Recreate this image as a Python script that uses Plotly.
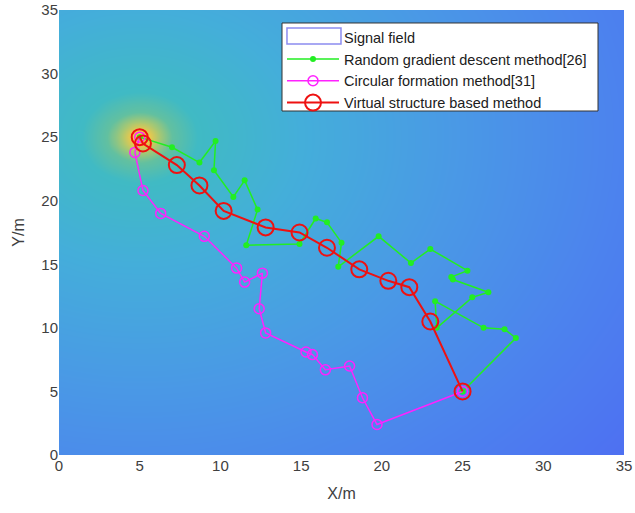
import numpy as np
import plotly.graph_objects as go

# ---- data ----
source = (5.0, 25.0)

green_x = [5.0, 7.0, 8.7, 9.7, 9.6, 10.8, 11.5, 12.3, 11.6, 14.9, 15.9, 16.6, 17.5, 17.3,
           19.8, 21.8, 23.0, 25.3, 24.3, 24.4, 26.6, 25.6, 23.4, 23.3, 26.3, 27.6, 28.3, 25.0]
green_y = [25.0, 24.2, 23.0, 24.7, 22.4, 20.3, 21.6, 19.3, 16.5, 16.6, 18.6, 18.3, 16.7, 14.8,
           17.2, 15.1, 16.2, 14.5, 14.0, 13.8, 12.8, 12.4, 10.0, 12.1, 10.0, 9.9, 9.2, 5.0]

magenta_x = [5.0, 4.7, 5.2, 6.3, 9.0, 11.0, 11.5, 12.6, 12.4, 12.8, 15.3, 15.7, 16.5, 18.0, 18.8, 19.7, 25.0]
magenta_y = [25.0, 23.8, 20.8, 19.0, 17.2, 14.7, 13.6, 14.3, 11.5, 9.6, 8.1, 7.9, 6.7, 7.0, 4.5, 2.4, 5.0]

red_x = [5.0, 5.2, 7.3, 8.7, 10.2, 12.8, 14.9, 16.6, 18.6, 20.4, 21.7, 23.0, 25.0]
red_y = [25.0, 24.5, 22.8, 21.2, 19.2, 17.9, 17.5, 16.3, 14.6, 13.7, 13.2, 10.5, 5.0]

ticks = [0, 5, 10, 15, 20, 25, 30, 35]
labels = ["Signal field", "Random gradient descent method[26]",
          "Circular formation method[31]", "Virtual structure based method"]

# ---- signal field (distance from source) ----
gx = np.linspace(0, 35, 141)
gy = np.linspace(0, 35, 141)
XX, YY = np.meshgrid(gx, gy)
dist = np.sqrt((XX - source[0]) ** 2 + (YY - source[1]) ** 2)

colorscale = [
    [0.0, "#F8D838"],
    [0.015, "#EAC84C"],
    [0.03, "#A8C872"],
    [0.05, "#62C0A0"],
    [0.09, "#40BAC4"],
    [0.25, "#44AEDA"],
    [0.5, "#4A98E6"],
    [0.75, "#4C82EE"],
    [1.0, "#4E6EF2"],
]

fig = go.Figure()
fig.add_trace(go.Heatmap(x=gx, y=gy, z=dist, colorscale=colorscale, zmin=0, zmax=40,
                         showscale=False, zsmooth="best", hoverinfo="skip"))

# legend proxy for the field (icon drawn as a shape)
fig.add_trace(go.Scatter(x=[None], y=[None], mode="lines",
                         line=dict(color="rgba(0,0,0,0)", width=0), name=labels[0]))

fig.add_trace(go.Scatter(x=green_x, y=green_y, mode="lines+markers", name=labels[1],
                         line=dict(color="#22EE22", width=1.5),
                         marker=dict(symbol="circle", size=6, color="#22EE22")))
fig.add_trace(go.Scatter(x=magenta_x, y=magenta_y, mode="lines+markers", name=labels[2],
                         line=dict(color="#FF22FF", width=1.5),
                         marker=dict(symbol="circle-open", size=10, color="#FF22FF",
                                     line=dict(width=1.5))))
fig.add_trace(go.Scatter(x=red_x, y=red_y, mode="lines+markers", name=labels[3],
                         line=dict(color="#EE1111", width=2),
                         marker=dict(symbol="circle-open", size=16, color="#EE1111",
                                     line=dict(width=2))))

font = "Liberation Sans, Arial, sans-serif"
fig.update_layout(
    width=635, height=513,
    margin=dict(l=59, r=11, t=10, b=58, autoexpand=False),
    paper_bgcolor="white", plot_bgcolor="white",
    font=dict(family=font, size=15, color="#404040"),
    showlegend=True,
    legend=dict(x=0.3947, y=0.975, xanchor="left", yanchor="top",
                bgcolor="rgba(0,0,0,0)", borderwidth=0,
                itemwidth=52, font=dict(size=14.5, color="#202020"),
                tracegroupgap=0),
    xaxis=dict(range=[0, 35], tickvals=ticks, showgrid=False, zeroline=False,
               automargin=False, ticks="",
               title=dict(text="X/m", standoff=14, font=dict(size=16))),
    yaxis=dict(range=[0, 35], tickvals=ticks, showgrid=False, zeroline=False,
               automargin=False, ticks="",
               title=dict(text="Y/m", standoff=12, font=dict(size=16))),
    shapes=[
        dict(type="rect", xref="paper", yref="paper", x0=0.3947, x1=0.954,
             y0=0.773, y1=0.9708, fillcolor="white", line=dict(color="#333333", width=1),
             layer="above"),
        dict(type="rect", xref="paper", yref="paper", x0=0.4035, x1=0.4991,
             y0=0.9236, y1=0.9596, fillcolor="rgba(255,255,255,0)",
             line=dict(color="#8C8CF0", width=1.5), layer="above"),
    ],
)

fig.write_html("out.html")
